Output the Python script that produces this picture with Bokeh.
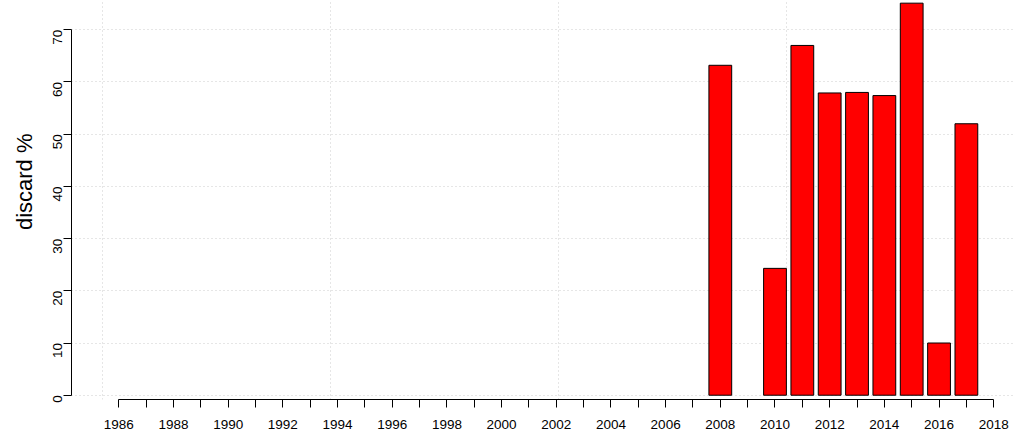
import math
from bokeh.plotting import figure
from bokeh.models import FixedTicker, Range1d, Title
from bokeh.embed import file_html
from bokeh.resources import INLINE

# Data
axis_years = list(range(1986, 2019))
bar_years = [2008, 2010, 2011, 2012, 2013, 2014, 2015, 2016, 2017]
discard_pct = [63.2, 24.3, 67.0, 57.9, 58.0, 57.4, 75.1, 10.0, 52.0]
y_ticks = [0, 10, 20, 30, 40, 50, 60, 70]
y_title = "discard %"

FONT = "Liberation Sans"

p = figure(width=1014, height=437, output_backend="svg", toolbar_location=None,
           x_range=Range1d(1984.27, 2018.76), y_range=Range1d(-0.82, 75.61),
           min_border_left=71, min_border_right=0, min_border_top=0,
           min_border_bottom=38)
p.outline_line_color = None
p.background_fill_color = "white"
p.border_fill_color = "white"

# bars (R barplot: width 1, space 0.2 -> 1/1.2 of the spacing)
p.vbar(x=bar_years, top=discard_pct, bottom=0, width=1 / 1.2,
       fill_color="#FF0000", line_color="black", line_width=1)

# grid as R grid(): positions on barplot user units 0,10,20,... mapped to years
bar_units = [0, 10, 20, 30, 40]
p.xgrid.ticker = FixedTicker(ticks=[axis_years[0] + (u - 0.7) / 1.2 for u in bar_units])
p.ygrid.ticker = FixedTicker(ticks=y_ticks)
for g in (p.xgrid, p.ygrid):
    g.grid_line_color = "#CCCCCC"
    g.grid_line_dash = "1 3"
    g.grid_line_width = 1

# x axis
xa = p.xaxis[0]
xa.ticker = FixedTicker(ticks=axis_years)
xa.major_label_overrides = {y: (str(y) if y % 2 == 0 else "") for y in axis_years}
xa.bounds = (axis_years[0], axis_years[-1])
xa.major_tick_in = 0
xa.major_tick_out = 8
xa.minor_tick_line_color = None
xa.axis_line_color = "black"
xa.major_tick_line_color = "black"
xa.major_label_text_font = FONT
xa.major_label_text_font_size = "13.5px"
xa.major_label_text_color = "black"
xa.major_label_standoff = 12

# y axis
ya = p.yaxis[0]
ya.ticker = FixedTicker(ticks=y_ticks)
ya.bounds = (y_ticks[0], y_ticks[-1])
ya.major_tick_in = 0
ya.major_tick_out = 8
ya.minor_tick_line_color = None
ya.axis_line_color = "black"
ya.major_tick_line_color = "black"
ya.major_label_orientation = math.pi / 2
ya.major_label_text_font = FONT
ya.major_label_text_font_size = "13.5px"
ya.major_label_text_color = "black"
ya.major_label_standoff = 6

# y title placed as in the reference (not centered on the frame)
p.add_layout(Title(text=y_title, align="right", offset=133, vertical_align="bottom",
                   text_font=FONT, text_font_size="22px", text_font_style="normal",
                   text_color="black", standoff=18), "left")

open("out.html", "w").write(file_html(p, INLINE))
